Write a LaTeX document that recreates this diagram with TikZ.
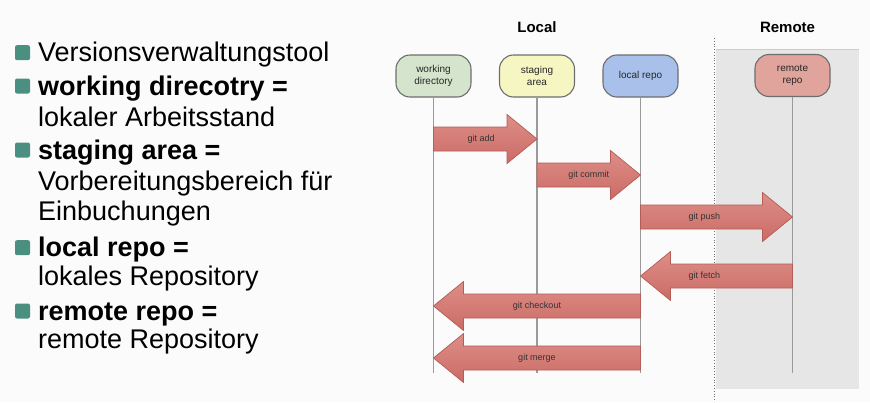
\documentclass[tikz,border=0pt]{standalone}
\usepackage{fontspec}
\setmainfont{Liberation Sans}
\usetikzlibrary{calc}

\definecolor{pagebg}{HTML}{FBFBFB}
\definecolor{remotebg}{HTML}{E6E6E6}
\definecolor{bulletgreen}{HTML}{4B8F80}
\definecolor{wdfill}{HTML}{D5E4CC}
\definecolor{safill}{HTML}{F6F6C3}
\definecolor{lrfill}{HTML}{A9C1EA}
\definecolor{rrfill}{HTML}{E0A49C}
\definecolor{boxline}{HTML}{6E6E6E}
\definecolor{lifeline}{HTML}{9A9A9A}
\definecolor{arrowtop}{HTML}{DE8E88}
\definecolor{arrowbot}{HTML}{CB6B65}
\definecolor{arrowline}{HTML}{B45C56}

\tikzset{
  itemtext/.style={anchor=base west, inner sep=0pt,
    font=\fontsize{27}{31}\selectfont},
  bulletbox/.style={fill=bulletgreen, rounded corners=2pt,
    minimum width=15pt, minimum height=15pt, inner sep=0pt},
  repo/.style={draw=boxline, line width=1.1pt, rounded corners=14pt,
    minimum width=75pt, minimum height=42pt, inner sep=1pt, align=center,
    font=\fontsize{10}{12}\selectfont, text=black!85},
  header/.style={font=\fontsize{15}{18}\selectfont\bfseries},
  life/.style={draw=lifeline, line width=1.2pt},
  fatarrow/.style={top color=arrowtop, bottom color=arrowbot,
    draw=arrowline, line width=0.7pt, line join=miter},
  arrowlabel/.style={font=\fontsize{9}{11}\selectfont, text=black!80, inner sep=0pt}
}

% name, from, to, row, label, label pos
\newcommand\fatarrow[6]{%
  \coordinate (#1-s) at (#2 |- 0,#4);
  \coordinate (#1-e) at (#3 |- 0,#4);
  \coordinate (#1-h) at ($(#1-e)!30pt!(#1-s)$);
  \path[fatarrow] ([yshift=12pt]#1-s) -- ([yshift=12pt]#1-h)
    -- ([yshift=24.5pt]#1-h) -- (#1-e) -- ([yshift=-24.5pt]#1-h)
    -- ([yshift=-12pt]#1-h) -- ([yshift=-12pt]#1-s) -- cycle;
  \node[arrowlabel] (#1-label) at ($(#1-s)!#6!(#1-e)$) {#5};
}

\begin{document}
\begin{tikzpicture}[x=1pt,y=-1pt]
\useasboundingbox (0,0) rectangle (870,402);
\fill[pagebg] (0,0) rectangle (870,402);

% remote side
\fill[remotebg] (716,49) rectangle (859,388.5);
\draw[black!20, line width=0.6pt] (716,49) -- (859,49);
\draw[black!55, dotted, line width=0.8pt] (714,38) -- (714,402);

% bullet list
\node[itemtext] (item1) at (38,61.7) {Versionsverwaltungstool};
\node[itemtext] (item2) at (38,95) {\textbf{working direcotry =}};
\node[itemtext] (item2b) at (38,126.7) {lokaler Arbeitsstand};
\node[itemtext] (item3) at (38,159) {\textbf{staging area =}};
\node[itemtext] (item3b) at (38,190) {Vorbereitungsbereich für};
\node[itemtext] (item3c) at (38,220.5) {Einbuchungen};
\node[itemtext] (item4) at (38,256.7) {\textbf{local repo =}};
\node[itemtext] (item4b) at (38,285.5) {lokales Repository};
\node[itemtext] (item5) at (38,320) {\textbf{remote repo =}};
\node[itemtext] (item5b) at (38,348.5) {remote Repository};
\foreach \i/\y in {1/61.7, 2/95, 3/159, 4/256.7, 5/320}
  \node[bulletbox] (bullet\i) at (22.5,\y-9) {};

% headers
\node[header] (local) at (537,27) {Local};
\node[header] (remote) at (787.5,27) {Remote};

% repos
\node[repo, fill=wdfill] (wd) at (433.5,76) {working\\directory};
\node[repo, fill=safill] (sa) at (537,76) {staging\\area};
\node[repo, fill=lrfill] (lr) at (640.5,76) {local repo};
\node[repo, fill=rrfill] (rr) at (792.5,75.5) {remote\\repo};

% lifelines
\foreach \n in {wd, sa, lr, rr}
  \draw[life] (\n.south) -- (\n |- 0,373);

% commands
\fatarrow{add}{wd}{sa}{139}{git add}{0.46}
\fatarrow{commit}{sa}{lr}{175}{git commit}{0.5}
\fatarrow{push}{lr}{rr}{217}{git push}{0.42}
\fatarrow{fetch}{rr}{lr}{276}{git fetch}{0.58}
\fatarrow{checkout}{lr}{wd}{306}{git checkout}{0.5}
\fatarrow{merge}{lr}{wd}{358}{git merge}{0.5}
\end{tikzpicture}
\end{document}
